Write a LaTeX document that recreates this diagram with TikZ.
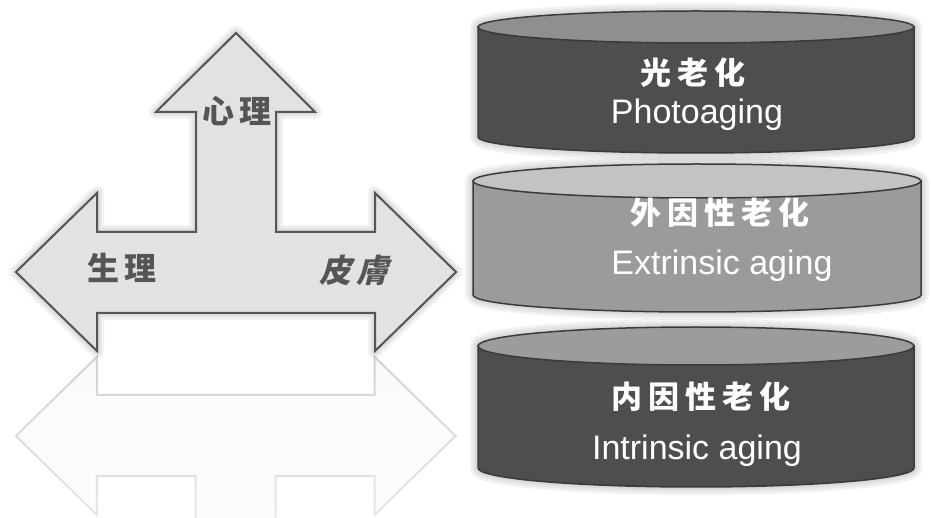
\documentclass[tikz,border=0pt]{standalone}
\usepackage{fontspec}
\setmainfont{Liberation Sans}
\newfontfamily\cjk{Noto Sans CJK SC}
\newfontfamily\cjkslant{Noto Sans CJK SC}[FakeSlant=0.25]
\usetikzlibrary{fadings}

\definecolor{arrowfill}{HTML}{E2E2E2}
\definecolor{arrowedge}{HTML}{555555}
\definecolor{labelgray}{HTML}{555555}
\definecolor{cyledge}{HTML}{3A3A3A}
\definecolor{darkbody}{HTML}{4E4E4E}
\definecolor{darktop}{HTML}{8F8F8F}
\definecolor{midbody}{HTML}{9B9B9B}
\definecolor{midtop}{HTML}{C3C3C3}
\definecolor{lowtop}{HTML}{9C9C9C}

% the three-way arrow and its mirror image
\newcommand\arrowpath{(16,272) -- (97,193) -- (97,232) -- (196,232) -- (196,112) -- (156,112)
  -- (236,33) -- (315,112) -- (276,112) -- (276,232) -- (375,232) -- (375,193)
  -- (456,272) -- (375,351) -- (375,313) -- (97,313) -- (97,351) -- cycle}
\newcommand\mirrorpath{(16,436) -- (97,515) -- (97,476) -- (196,476) -- (196,596) -- (156,596)
  -- (236,675) -- (315,596) -- (276,596) -- (276,476) -- (375,476) -- (375,515)
  -- (456,436) -- (375,357) -- (375,395) -- (97,395) -- (97,357) -- cycle}

% cylinder: centre x, top y, bottom y, x radius, y radius, body, lid
\newcommand\agecyl[7]{%
  \foreach \w in {16,11,6}
    \draw[line width=\w pt, black, opacity=0.05, line join=round]
      (#1-#4, #2) -- (#1-#4, #3) arc[start angle=180, end angle=0, x radius=#4, y radius=#5]
      -- (#1+#4, #2) arc[start angle=0, end angle=180, x radius=#4, y radius=-#5] -- cycle;
  \draw[cylline, fill=#6] (#1-#4, #2) -- (#1-#4, #3)
    arc[start angle=180, end angle=0, x radius=#4, y radius=#5] -- (#1+#4, #2) -- cycle;
  \draw[cylline, fill=#7] (#1, #2) ellipse[x radius=#4, y radius=#5];
}

\begin{document}
\begin{tikzpicture}[x=1pt, y=-1pt,
    arrowline/.style={draw=arrowedge, line width=2pt, line join=miter},
    cylline/.style={draw=cyledge, line width=1.5pt},
    zhside/.style={text=labelgray, font=\cjk\bfseries\addfontfeature{LetterSpace=15}\fontsize{32}{34}\selectfont},
    zhcyl/.style={text=white, font=\cjk\bfseries\addfontfeature{LetterSpace=20}\fontsize{31}{33}\selectfont},
    encyl/.style={text=white, font=\fontsize{34}{36}\selectfont}]
  \useasboundingbox (0,0) rectangle (932,518);

  % reflection
  \begin{scope}
    \clip (0,354) rectangle (932,518);
    \fill[gray!4, path fading=south] \mirrorpath;
    \draw[gray!35, line width=2pt, path fading=south] \mirrorpath;
  \end{scope}

  % arrow
  \foreach \w in {14,9,5}
    \draw[line width=\w pt, black, opacity=0.05, line join=round] \arrowpath;
  \draw[arrowline, fill=arrowfill] \arrowpath;

  \node[zhside] (psych) at (237,111) {心理};
  \node[zhside] (physio) at (122,268) {生理};
  \node[zhside, font=\cjkslant\bfseries\addfontfeature{LetterSpace=15}\fontsize{32}{34}\selectfont] (skin) at (354,270) {皮膚};

  % cylinders
  \agecyl{696}{27}{137}{218}{16}{darkbody}{darktop}
  \agecyl{697}{181}{295}{224}{17}{midbody}{midtop}
  \agecyl{696}{346}{468}{218}{19}{darkbody}{lowtop}

  \node[zhcyl] (photozh) at (693,73) {光老化};
  \node[encyl] (photoen) at (697,115) {Photoaging};
  \node[zhcyl] (extzh) at (720,213) {外因性老化};
  \node[encyl] (exten) at (722,266) {Extrinsic aging};
  \node[zhcyl] (intzh) at (701,397) {内因性老化};
  \node[encyl] (inten) at (697,451) {Intrinsic aging};
\end{tikzpicture}
\end{document}
